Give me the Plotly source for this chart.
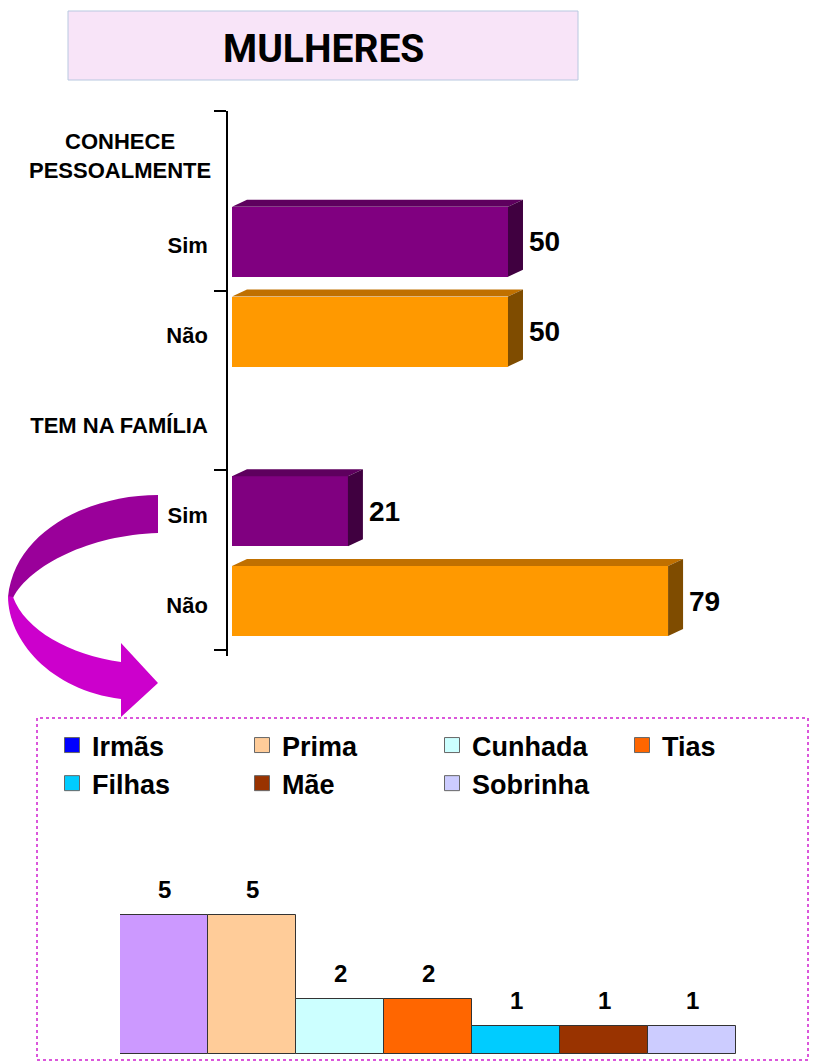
import plotly.graph_objects as go

W, H = 814, 1064
FONT = "Liberation Sans, Arial, sans-serif"

title = "MULHERES"

# Upper chart: two question groups, each answered Sim / Não (%)
group_labels = ["CONHECE<br>PESSOALMENTE", "TEM NA FAMÍLIA"]
answer_labels = ["Sim", "Não"]
conhece_pct = [50, 50]
familia_pct = [21, 79]
group_values = [conhece_pct, familia_pct]

# Lower chart: which relative
parentes = ["Irmãs", "Prima", "Cunhada", "Tias", "Filhas", "Mãe", "Sobrinha"]
parentes_n = [5, 5, 2, 2, 1, 1, 1]

# front / top / side shades of the 3-D bars
answer_colors = {
    "Sim": ("#800080", "#5E005E", "#400040"),
    "Não": ("#FF9900", "#C07000", "#7F4C00"),
}
bar_colors = ["#CC99FF", "#FFCC99", "#CCFFFF", "#FF6600", "#00CCFF", "#993300", "#CCCCFF"]
legend_colors = ["#0000FF", "#FFCC99", "#CCFFFF", "#FF6600", "#00CCFF", "#993300", "#CCCCFF"]


def px(x):
    return x / W


def py(y):
    return 1 - y / H


def path_px(cmds):
    """Build an SVG path in paper units from pixel coordinates (one point per L)."""
    out = []
    for cmd, pts in cmds:
        if cmd == "Z":
            out.append("Z")
        elif cmd == "L":
            out.extend(f"L{px(x):.5f},{py(y):.5f}" for x, y in pts)
        else:
            out.append(cmd + " ".join(f"{px(x):.5f},{py(y):.5f}" for x, y in pts))
    return " ".join(out)


fig = go.Figure()

# ---------- upper horizontal 3-D bars ----------
X_MIN, X_MAX = -0.7246, 101.09      # value 0 sits a few px right of the axis line
Y_TOP, Y_BOTTOM = -0.5, 5.567
BAR_W, BAR_OFF = 0.78, -0.435
DX = 15 / 5.52                      # depth of the 3-D extrusion in value units
DY = 7 / 89.8                       # depth in row units

label_rows, label_text, heading_rows = [], [], []
for g, (grp, vals) in enumerate(zip(group_labels, group_values)):
    head = 3 * g
    heading_rows.append(head)
    if g > 0:
        label_rows.append(head)
        label_text.append(grp)
    for a, (ans, v) in enumerate(zip(answer_labels, vals)):
        row = head + 1 + a
        label_rows.append(row)
        label_text.append(ans)
        front, top, side = answer_colors[ans]
        t = row + BAR_OFF
        b = t + BAR_W
        fig.add_trace(go.Bar(
            x=[v], y=[row], orientation="h", width=BAR_W, offset=BAR_OFF,
            marker=dict(color=front, line=dict(width=0)),
            xaxis="x", yaxis="y", showlegend=False, hoverinfo="skip",
        ))
        fig.add_trace(go.Scatter(
            x=[0, v, v + DX, DX, 0], y=[t, t, t - DY, t - DY, t],
            fill="toself", fillcolor=top, mode="lines", line=dict(width=0, color=top),
            xaxis="x", yaxis="y", showlegend=False, hoverinfo="skip",
        ))
        fig.add_trace(go.Scatter(
            x=[v, v + DX, v + DX, v, v], y=[t, t - DY, b - DY, b, t],
            fill="toself", fillcolor=side, mode="lines", line=dict(width=0, color=side),
            xaxis="x", yaxis="y", showlegend=False, hoverinfo="skip",
        ))
        fig.add_annotation(
            x=v + DX, y=row - 0.045, xref="x", yref="y", text=str(v),
            xanchor="left", yanchor="middle", xshift=4, showarrow=False,
            font=dict(family=FONT, size=28, color="#000", weight="bold"),
        )

fig.add_annotation(
    x=px(213), y=heading_rows[0], xref="paper", yref="y",
    text=group_labels[0], xanchor="right", yanchor="middle", align="center",
    showarrow=False, font=dict(family=FONT, size=22, color="#000", weight="bold"),
)

# ---------- lower column chart ----------
fig.add_trace(go.Bar(
    x=parentes, y=parentes_n, width=1,
    marker=dict(color=bar_colors, line=dict(color="#333333", width=1)),
    xaxis="x3", yaxis="y3", showlegend=False, hoverinfo="skip",
))
for name, col in zip(parentes, legend_colors):
    fig.add_trace(go.Scatter(
        x=[None], y=[None], name=name, mode="markers",
        marker=dict(symbol="square", size=15, color=col, line=dict(color="#666666", width=1)),
        xaxis="x3", yaxis="y3", showlegend=True,
    ))
for name, n in zip(parentes, parentes_n):
    fig.add_annotation(
        x=name, y=n, xref="x3", yref="y3", text=str(n),
        yanchor="bottom", yshift=10, showarrow=False,
        font=dict(family=FONT, size=24, color="#000", weight="bold"),
    )

# ---------- title box ----------
fig.add_shape(type="rect", xref="paper", yref="paper",
              x0=px(68), x1=px(578), y0=py(80), y1=py(11),
              fillcolor="#F8E4F8", line=dict(color="#B8C8E0", width=1), layer="below")
fig.add_annotation(x=px(323), y=py(49), xref="paper", yref="paper", text=title,
                   showarrow=False, xanchor="center", yanchor="middle",
                   font=dict(family="Roboto, " + FONT, size=39, color="#000", weight="bold"))

# ---------- dotted frame around the relatives chart ----------
fig.add_shape(type="rect", xref="paper", yref="paper",
              x0=px(37), x1=px(808), y0=py(1060), y1=py(718),
              fillcolor="rgba(0,0,0,0)", line=dict(color="#D020D0", width=1.5, dash="dot"),
              layer="below")

# ---------- curved arrow linking the two charts ----------
upper_band = [
    ("M", [(158, 495)]),
    ("C", [(90, 495), (15, 530), (8, 597)]),
    ("L", [(13, 598)]),
    ("C", [(30, 565), (90, 535), (158, 533)]),
    ("Z", []),
]
lower_band = [
    ("M", [(8, 596)]),
    ("C", [(8, 640), (50, 690), (121, 699)]),
    ("L", [(121, 717), (158, 683), (121, 643), (121, 662)]),
    ("C", [(70, 655), (25, 630), (13, 597)]),
    ("Z", []),
]
fig.add_shape(type="path", xref="paper", yref="paper", path=path_px(upper_band),
              fillcolor="#9A009A", line=dict(width=0))
fig.add_shape(type="path", xref="paper", yref="paper", path=path_px(lower_band),
              fillcolor="#CC00CC", line=dict(width=0))

fig.update_layout(
    width=W, height=H, autosize=False,
    margin=dict(l=0, r=0, t=0, b=0),
    paper_bgcolor="white", plot_bgcolor="rgba(0,0,0,0)",
    barmode="overlay", bargap=0,
    font=dict(family=FONT, color="#000"),
    xaxis=dict(domain=[px(228), px(790)], range=[X_MIN, X_MAX], visible=False,
               anchor="y", fixedrange=True),
    yaxis=dict(
        domain=[py(656), py(111)], range=[Y_BOTTOM, Y_TOP], anchor="x",
        showline=True, linecolor="#000", linewidth=1.5, showgrid=False, zeroline=False,
        tickmode="array", tickvals=label_rows, ticktext=label_text,
        ticks="outside", ticklen=14, tickcolor="rgba(0,0,0,0)",
        tickfont=dict(family=FONT, size=22, color="#000", weight="bold"),
        minor=dict(tickmode="array", tickvals=[-0.5, 1.5, 3.5, 5.5], ticks="outside",
                   ticklen=12, tickwidth=1.5, tickcolor="#000", showgrid=False),
    ),
    xaxis3=dict(domain=[px(120), px(736)], anchor="y3", visible=False,
                type="category", categoryorder="array", categoryarray=parentes),
    yaxis3=dict(domain=[py(1054), py(860)], anchor="x3", range=[0, 7], visible=False),
    legend=dict(
        orientation="h", x=px(52), y=py(721), xanchor="left", yanchor="top",
        entrywidth=145, entrywidthmode="pixels", traceorder="normal",
        bgcolor="rgba(0,0,0,0)",
        font=dict(family=FONT, size=27, color="#000", weight="bold"),
    ),
    showlegend=True,
)

fig.write_html("out.html")
